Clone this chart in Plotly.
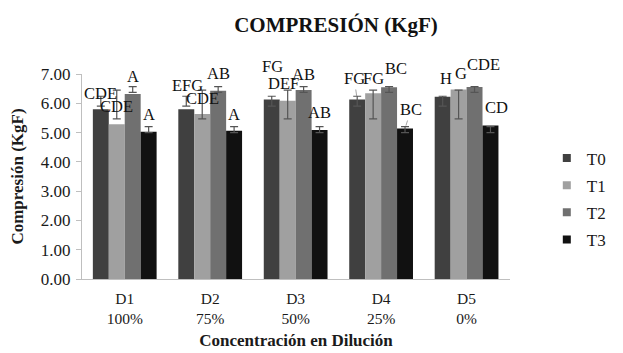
import plotly.graph_objects as go

# ---- data ----
categories = ["D1<br>100%", "D2<br>75%", "D3<br>50%", "D4<br>25%", "D5<br>0%"]
series_names = ["T0", "T1", "T2", "T3"]
T0 = [5.80, 5.80, 6.13, 6.13, 6.22]
T1 = [5.28, 5.63, 6.09, 6.34, 6.47]
T2 = [6.32, 6.43, 6.45, 6.55, 6.56]
T3 = [5.03, 5.06, 5.09, 5.14, 5.24]
# error bars (Excel "standard deviation" style: centred on the series mean)
T0_err_center = [6.07, 6.07, 6.07, 6.07, 6.07]
T0_err = [0.17, 0.17, 0.17, 0.17, 0.17]
T1_err_center = [5.96, 5.96, 5.96, 5.96, 5.96]
T1_err = [0.49, 0.49, 0.49, 0.49, 0.49]
T2_err_center = [6.47, 6.47, 6.47, 6.47, 6.47]
T2_err = [0.10, 0.10, 0.10, 0.10, 0.10]
T3_err_center = [5.10, 5.10, 5.10, 5.10, 5.10]
T3_err = [0.10, 0.10, 0.10, 0.10, 0.10]
# significance letters
T0_letters = ["CDE", "EFG", "FG", "FG", "H"]
T1_letters = ["CDE", "CDE", "DEF", "FG", "G"]
T2_letters = ["A", "AB", "AB", "BC", "CDE"]
T3_letters = ["A", "A", "AB", "BC", "CD"]

values = [T0, T1, T2, T3]
err_centers = [T0_err_center, T1_err_center, T2_err_center, T3_err_center]
errs = [T0_err, T1_err, T2_err, T3_err]
letters = [T0_letters, T1_letters, T2_letters, T3_letters]
colors = ["#404040", "#a0a0a0", "#707070", "#111111"]

FONT = "Liberation Serif"

fig = go.Figure()
for s in range(4):
    fig.add_trace(go.Bar(
        x=categories, y=values[s], name=series_names[s],
        marker=dict(color=colors[s], line=dict(width=0)),
        offsetgroup=series_names[s], showlegend=False, hoverinfo="skip"))
for s in range(4):
    fig.add_trace(go.Bar(
        x=categories, y=err_centers[s],
        marker=dict(color="rgba(0,0,0,0)", line=dict(width=0)),
        offsetgroup=series_names[s], showlegend=False, hoverinfo="skip",
        error_y=dict(type="data", array=errs[s], visible=True,
                     color="#555555", thickness=1.2, width=4)))
for s in range(4):
    fig.add_trace(go.Scatter(
        x=[None], y=[None], mode="markers", name=series_names[s],
        legendgroup=series_names[s],
        marker=dict(symbol="square", size=8, color=colors[s])))

bar_offset = [-0.28, -0.093, 0.093, 0.28]
shifts = [
    [(0, 16), (1, 24), (1, 33), None, (3, 18)],
    [(0, 18), (0, 16), (-4, 17), (0, 15), (2, 16)],
    [(0, 17), (0, 17), (0, 16), (7, 19), (9, 22)],
    [(0, 17), (0, 16), (0, 17), None, (6, 18)],
]
arrows = {(0, 3): (-3, -21), (3, 3): (6, -19)}
for s in range(4):
    for i in range(5):
        xpos = i + bar_offset[s]
        if (s, i) in arrows:
            ax, ay = arrows[(s, i)]
            fig.add_annotation(x=xpos, y=values[s][i], xref="x", yref="y",
                               text=letters[s][i], showarrow=True, arrowhead=0,
                               arrowwidth=0.8, arrowcolor="#8c8c8c", ax=ax, ay=ay,
                               standoff=3,
                               font=dict(family=FONT, size=16.5, color="#111111"))
        else:
            xs, ys = shifts[s][i]
            fig.add_annotation(x=xpos, y=values[s][i], xref="x", yref="y",
                               text=letters[s][i], showarrow=False,
                               xshift=xs, yshift=ys, yanchor="middle",
                               font=dict(family=FONT, size=16.5, color="#111111"))

fig.update_layout(
    width=623, height=353,
    margin=dict(l=82, r=79, t=74, b=74),
    paper_bgcolor="white", plot_bgcolor="white",
    barmode="group", bargap=0.254, bargroupgap=0,
    font=dict(family=FONT, size=17, color="#1a1a1a"),
    title=dict(text="<b>COMPRESIÓN (KgF)</b>", x=336/623, xref="container",
               xanchor="center", y=0.93, yanchor="middle",
               font=dict(family=FONT, size=21, color="#111111")),
    legend=dict(x=1.086, y=0.39, xanchor="left", yanchor="middle",
                font=dict(family=FONT, size=17, color="#1a1a1a"),
                tracegroupgap=2, itemwidth=30, bgcolor="rgba(0,0,0,0)"),
    xaxis=dict(showline=True, linecolor="#bfbfbf", linewidth=1, ticks="",
               showgrid=False, tickfont=dict(family=FONT, size=15.5),
               ticklabelstandoff=5, automargin=False,
               title=dict(text="<b>Concentración en Dilución</b>", standoff=8,
                          font=dict(family=FONT, size=17))),
    yaxis=dict(range=[0, 7], dtick=1, tickformat=".2f", showline=True,
               linecolor="#bfbfbf", linewidth=1, ticks="outside", ticklen=5,
               tickcolor="#bfbfbf", showgrid=False, zeroline=False,
               tickfont=dict(family=FONT, size=17), automargin=False,
               ticklabelstandoff=2,
               title=dict(text="<b>Compresión (KgF)</b>", standoff=12,
                          font=dict(family=FONT, size=17))),
)

fig.write_html("out.html")
